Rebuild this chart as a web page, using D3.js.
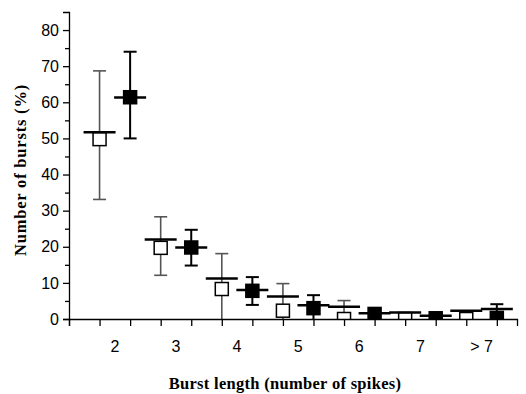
<!DOCTYPE html>
<html>
<head>
<meta charset="utf-8">
<script src="https://cdn.jsdelivr.net/npm/d3@7"></script>
<style>
  body { margin: 0; background: #fff; }
  svg { display: block; }
</style>
</head>
<body>
<script>
// burst length categories, x position = category centre
var categories = ["2", "3", "4", "5", "6", "7", "> 7"]
var catPos = [2, 3, 4, 5, 6, 7, 8]

// open squares (left of each category)
var openBox = [49.8, 19.7, 8.3, 2.3, 0, 0, 0]
var openLine = [51.7, 22.0, 11.2, 6.2, 3.4, 1.8, 2.3]
var openHigh = [68.7, 28.3, 18.1, 9.8, 5.1, null, null]
var openLow = [33.1, 12.1, 0, 0, 0, null, null]

// filled squares (right of each category)
var filledBox = [61.4, 19.8, 7.8, 3.0, 1.4, 0.2, 0.3]
var filledLine = [61.3, 19.8, 8.0, 3.8, 1.6, 0.9, 2.8]
var filledHigh = [74.0, 24.7, 11.6, 6.6, null, null, 4.1]
var filledLow = [50.0, 14.8, 3.9, 0, null, null, 0]

var yTicks = [0, 10, 20, 30, 40, 50, 60, 70, 80]

var width = 526, height = 394

var svg = d3.select("body")
  .append("svg")
  .attr("width", width)
  .attr("height", height)

var xScale = d3.scaleLinear()
  .domain([1.25, 8.58])
  .range([69, 517])

var yScale = d3.scaleLinear()
  .domain([0, 85])
  .range([319, 12])

svg.append("clipPath").attr("id", "plot")
  .append("rect").attr("x", 69).attr("y", 0).attr("width", 460).attr("height", 319)

var plot = svg.append("g").attr("clip-path", "url(#plot)")

function series(box, line, high, low, offset, filled) {
  var d = categories.map(function(c, i) {
    return {x: catPos[i] + offset, box: box[i], line: line[i], high: high[i], low: low[i]}
  })
  var g = plot.append("g")
  var errColor = filled ? "#000" : "#555"
  var errWidth = filled ? 2 : 1.6

  var err = d.filter(function(p) { return p.high != null })
  g.selectAll(".err").data(err).enter().append("line")
    .attr("x1", function(p) { return xScale(p.x) })
    .attr("x2", function(p) { return xScale(p.x) })
    .attr("y1", function(p) { return yScale(p.high) })
    .attr("y2", function(p) { return yScale(p.low) })
    .attr("stroke", errColor).attr("stroke-width", errWidth)
  g.selectAll(".capHi").data(err).enter().append("line")
    .attr("x1", function(p) { return xScale(p.x) - 6.5 })
    .attr("x2", function(p) { return xScale(p.x) + 6.5 })
    .attr("y1", function(p) { return yScale(p.high) })
    .attr("y2", function(p) { return yScale(p.high) })
    .attr("stroke", errColor).attr("stroke-width", errWidth)
  g.selectAll(".capLo").data(err.filter(function(p) { return p.low > 0 })).enter().append("line")
    .attr("x1", function(p) { return xScale(p.x) - 6.5 })
    .attr("x2", function(p) { return xScale(p.x) + 6.5 })
    .attr("y1", function(p) { return yScale(p.low) })
    .attr("y2", function(p) { return yScale(p.low) })
    .attr("stroke", errColor).attr("stroke-width", errWidth)

  g.selectAll("rect").data(d).enter().append("rect")
    .attr("x", function(p) { return xScale(p.x) - 6.5 })
    .attr("y", function(p) { return yScale(p.box) - 6.5 })
    .attr("width", 13).attr("height", 13)
    .attr("fill", filled ? "#000" : "#fff")
    .attr("stroke", "#000").attr("stroke-width", 1.5)

  g.selectAll(".mean").data(d).enter().append("line")
    .attr("x1", function(p) { return xScale(p.x) - 16 })
    .attr("x2", function(p) { return xScale(p.x) + 16 })
    .attr("y1", function(p) { return yScale(p.line) })
    .attr("y2", function(p) { return yScale(p.line) })
    .attr("stroke", "#000").attr("stroke-width", 2.5)
}

series(openBox, openLine, openHigh, openLow, -0.25, false)
series(filledBox, filledLine, filledHigh, filledLow, 0.25, true)

// axes
var yAxis = d3.axisLeft(yScale).tickValues(yTicks).tickSize(6).tickPadding(4)
var yMinor = d3.axisLeft(yScale).tickValues(d3.range(5, 85, 10)).tickSize(4).tickFormat("")
var xAxis = d3.axisBottom(xScale).tickValues(d3.range(1.25, 8.3, 0.5)).tickSize(7).tickFormat("")

var ya = svg.append("g").attr("transform", "translate(69,0)").call(yAxis)
svg.append("g").attr("transform", "translate(69,0)").call(yMinor)
  .select(".domain").remove()
var xa = svg.append("g").attr("transform", "translate(0,319)").call(xAxis)

svg.selectAll(".domain").attr("stroke", "#000").attr("stroke-width", 1.3)
svg.selectAll(".tick line").attr("stroke", "#000").attr("stroke-width", 1.3)
ya.selectAll("text")
  .attr("font-family", "Liberation Sans, Arial, sans-serif")
  .attr("font-size", 16).attr("fill", "#000")

svg.append("g").selectAll("text").data(categories).enter().append("text")
  .attr("x", function(c, i) { return xScale(catPos[i]) })
  .attr("y", 352)
  .attr("text-anchor", "middle")
  .attr("font-family", "Liberation Sans, Arial, sans-serif")
  .attr("font-size", 16)
  .text(function(c) { return c })

svg.append("text")
  .attr("x", 285).attr("y", 389)
  .attr("text-anchor", "middle")
  .attr("font-family", "Liberation Serif, Times New Roman, serif")
  .attr("font-weight", "bold")
  .attr("font-size", 16.5)
  .attr("letter-spacing", 0.3)
  .text("Burst length (number of spikes)")

svg.append("text")
  .attr("transform", "translate(26,170) rotate(-90)")
  .attr("text-anchor", "middle")
  .attr("font-family", "Liberation Serif, Times New Roman, serif")
  .attr("font-weight", "bold")
  .attr("font-size", 16.5)
  .attr("letter-spacing", 0.8)
  .text("Number of bursts (%)")
</script>
</body>
</html>
